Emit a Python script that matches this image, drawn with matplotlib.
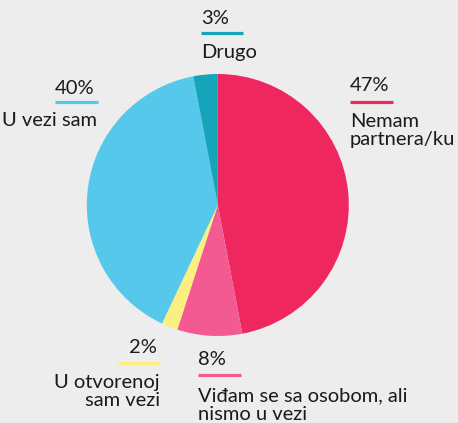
import matplotlib
matplotlib.use("Agg")
import matplotlib.pyplot as plt

plt.rcParams['font.family'] = ['Lato', 'DejaVu Sans']

# data (clockwise from top)
labels = ["Nemam\npartnera/ku", "Viđam se sa osobom, ali\nnismo u vezi",
          "U otvorenoj\nsam vezi", "U vezi sam", "Drugo"]
values = [47, 8, 2, 40, 3]
colors = ["#EE285E", "#F35A91", "#FCEF82", "#56C8EB", "#14A5BB"]

W, H = 458, 423
bg = "#EDEDED"
txt = "#1A1A1A"
pitch = 18  # px between text lines
fs = 14.5

# label layout in pixels: x, baseline of pct, y of line, baseline of text, alignment, line end
layout = [
    (350, 90.5, 101.7, 126.7, 'left', 393),
    (198, 364.5, 375, 401.5, 'left', 241),
    (160, 352.5, 363, 387.5, 'right', 118),
    (97.5, 93.5, 102.3, 125.5, 'right', 55),
    (201, 23.5, 33.3, 58, 'left', 243),
]

fig = plt.figure(figsize=(W / 100, H / 100), dpi=100, facecolor=bg)
ax = fig.add_axes([0, 0, 1, 1])
ax.set_facecolor(bg)

ax.pie(values, colors=colors, startangle=90, counterclock=False,
       center=(217.8, H - 205), radius=131,
       wedgeprops=dict(linewidth=0))

for lab, v, c, (x, yp, yl, yt, ha, x2) in zip(labels, values, colors, layout):
    xp = x - 3 if ha == 'right' else x
    ax.text(xp, H - yp, f"{v}%", ha=ha, va='baseline', fontsize=fs,
            color=txt)
    ax.plot([x, x2] if ha == 'left' else [x2, x], [H - yl, H - yl],
            color=c, lw=2.3, solid_capstyle='butt')
    for i, line in enumerate(lab.split("\n")):
        ax.text(x, H - yt - i * pitch, line, ha=ha, va='baseline',
                fontsize=fs, color=txt)

ax.set_xlim(0, W)
ax.set_ylim(0, H)
ax.set_aspect('auto')
ax.axis('off')

fig.savefig("out.png", dpi=100, facecolor=bg)
